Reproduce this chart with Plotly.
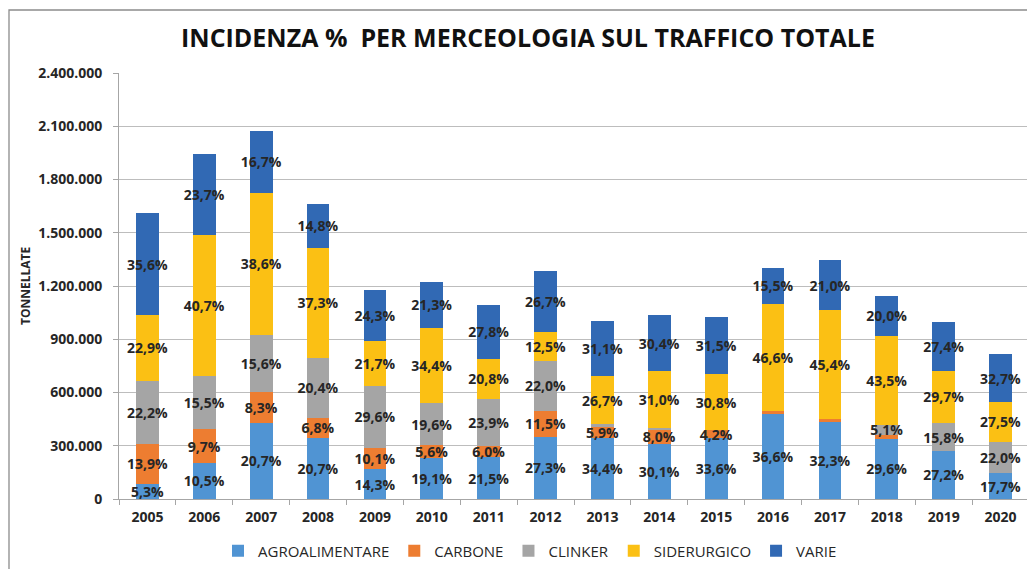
import plotly.graph_objects as go

years = ["2005", "2006", "2007", "2008", "2009", "2010", "2011", "2012",
         "2013", "2014", "2015", "2016", "2017", "2018", "2019", "2020"]

agroalimentare = [85400, 204100, 429500, 344000, 168600, 233800, 235400, 350300,
                  345000, 311500, 343700, 476200, 434800, 339200, 270600, 144300]
carbone = [223900, 188600, 172200, 113000, 119100, 68500, 65700, 147500,
           59200, 82800, 43000, 16900, 17500, 20600, 0, 0]
clinker = [357600, 301300, 323700, 339000, 349000, 239900, 261700, 282300,
           19100, 5200, 0, 0, 0, 58400, 157200, 179300]
siderurgico = [368900, 791200, 801000, 619900, 255800, 421100, 227800, 160400,
               267800, 320900, 315100, 606300, 611100, 498500, 295500, 224100]
varie = [573500, 460700, 346500, 246000, 286500, 260700, 304400, 342600,
         311900, 314600, 322200, 201700, 282700, 229200, 272600, 266500]

lbl_agro = ["5,3%", "10,5%", "20,7%", "20,7%", "14,3%", "19,1%", "21,5%", "27,3%",
            "34,4%", "30,1%", "33,6%", "36,6%", "32,3%", "29,6%", "27,2%", "17,7%"]
lbl_carbone = ["13,9%", "9,7%", "8,3%", "6,8%", "10,1%", "5,6%", "6,0%", "11,5%",
               "5,9%", "8,0%", "4,2%", "", "", "", "", ""]
lbl_clinker = ["22,2%", "15,5%", "15,6%", "20,4%", "29,6%", "19,6%", "23,9%", "22,0%",
               "", "", "", "", "", "5,1%", "15,8%", "22,0%"]
lbl_sider = ["22,9%", "40,7%", "38,6%", "37,3%", "21,7%", "34,4%", "20,8%", "12,5%",
             "26,7%", "31,0%", "30,8%", "46,6%", "45,4%", "43,5%", "29,7%", "27,5%"]
lbl_varie = ["35,6%", "23,7%", "16,7%", "14,8%", "24,3%", "21,3%", "27,8%", "26,7%",
             "31,1%", "30,4%", "31,5%", "15,5%", "21,0%", "20,0%", "27,4%", "32,7%"]

series = [
    ("AGROALIMENTARE", agroalimentare, lbl_agro, "#5094D3"),
    ("CARBONE", carbone, lbl_carbone, "#ED7D31"),
    ("CLINKER", clinker, lbl_clinker, "#A5A5A5"),
    ("SIDERURGICO", siderurgico, lbl_sider, "#FBC014"),
    ("VARIE", varie, lbl_varie, "#3169B4"),
]

FONT = "Open Sans"
TXT = "#262626"

fig = go.Figure()
for name, vals, lbls, col in series:
    fig.add_trace(go.Bar(
        name=name, x=years, y=vals, text=lbls,
        marker=dict(color=col, line=dict(width=0)),
        textposition="inside", insidetextanchor="middle", textangle=0,
        textfont=dict(family=FONT, size=14, color=TXT, weight="bold"),
        cliponaxis=False,
    ))

fig.update_layout(
    barmode="stack",
    bargap=0.6,
    width=1035, height=569,
    margin=dict(l=111, r=14, t=65, b=78, autoexpand=False),
    paper_bgcolor="white", plot_bgcolor="white",
    separators=",.",
    uniformtext=dict(minsize=14, mode="show"),
    title=dict(text="<b>INCIDENZA %  PER MERCEOLOGIA SUL TRAFFICO TOTALE</b>",
               x=520 / 1035, xref="container", xanchor="center",
               y=1 - 30 / 569, yref="container", yanchor="middle",
               font=dict(family=FONT, size=25, color="#111111")),
    legend=dict(orientation="h", x=(522 - 111) / 910, xref="paper", xanchor="center",
                y=-0.122, yref="paper", yanchor="middle",
                font=dict(family=FONT, size=15, color=TXT),
                traceorder="normal", itemwidth=30),
    xaxis=dict(type="category", showline=True, linecolor="#A6A6A6", linewidth=1,
               ticks="outside", tickson="boundaries", ticklen=5, tickcolor="#A6A6A6",
               tickangle=0, ticklabelstandoff=5,
               tickfont=dict(family=FONT, size=14, color=TXT, weight="bold"),
               showgrid=False),
    yaxis=dict(range=[0, 2400000], dtick=300000, tickformat=",d",
               showline=True, linecolor="#A6A6A6", linewidth=1,
               ticks="outside", ticklen=5, tickcolor="#A6A6A6",
               ticklabelstandoff=8,
               gridcolor="#BDBDBD", gridwidth=1,
               tickfont=dict(family=FONT, size=14, color=TXT, weight="bold"),
               zeroline=False),
    annotations=[dict(text="<b>TONNELLATE</b>", textangle=-90,
                      x=(25 - 119) / 910, xref="paper", xanchor="center",
                      y=0.5, yref="paper", yanchor="middle", showarrow=False,
                      font=dict(family=FONT, size=12, color=TXT))],
    shapes=[dict(type="rect", xref="paper", yref="paper",
                 x0=-110 / 910, x1=1.2, y0=-0.4, y1=1 + 63 / 426,
                 line=dict(color="#8C8C8C", width=1.3), fillcolor="rgba(0,0,0,0)",
                 layer="below")],
    showlegend=True,
)

fig.write_html("out.html")
